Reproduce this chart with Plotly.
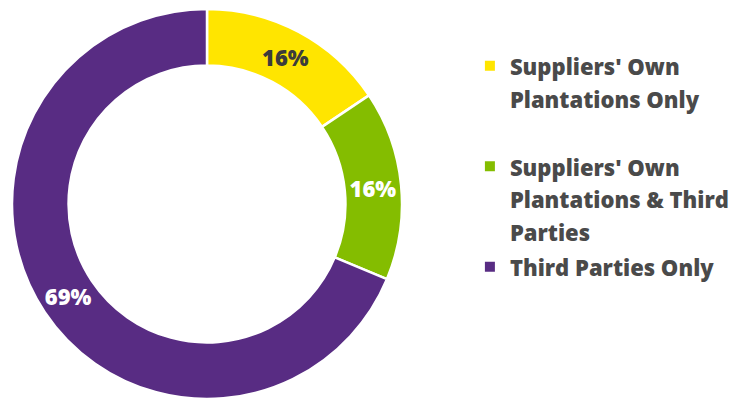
import plotly.graph_objects as go

categories = [
    "Suppliers' Own<br>Plantations Only<br> ",
    "Suppliers' Own<br>Plantations & Third<br>Parties",
    "Third Parties Only",
]
values = [15.6, 15.7, 68.7]
colors = ["#FFE500", "#84BD00", "#582C83"]
text_colors = ["#3C3C3C", "#FFFFFF", "#FFFFFF"]

legend_labels = [f"<span style='font-size:22px'>{c}</span>" for c in categories]

fig = go.Figure(
    go.Pie(
        labels=legend_labels,
        values=values,
        hole=0.71,
        sort=False,
        direction="clockwise",
        rotation=0,
        marker=dict(colors=colors, line=dict(color="#FFFFFF", width=2.5)),
        texttemplate="%{percent:.0%}",
        textposition="inside",
        insidetextorientation="horizontal",
        textfont=dict(family="Open Sans", size=22, color=text_colors, weight=800),
        domain=dict(x=[11 / 740, 403 / 740], y=[2 / 401, 392 / 401]),
        showlegend=True,
    )
)

fig.update_layout(
    width=740,
    height=401,
    margin=dict(l=0, r=0, t=0, b=0),
    paper_bgcolor="#FFFFFF",
    plot_bgcolor="#FFFFFF",
    font=dict(family="Open Sans", color="#4A4A4A"),
    legend=dict(
        x=0.635,
        y=0.893,
        xanchor="left",
        yanchor="top",
        valign="top",
        font=dict(family="Open Sans", size=25, color="#4A4A4A", weight=800),
        itemsizing="constant",
        traceorder="normal",
    ),
)

fig.write_html("out.html")
